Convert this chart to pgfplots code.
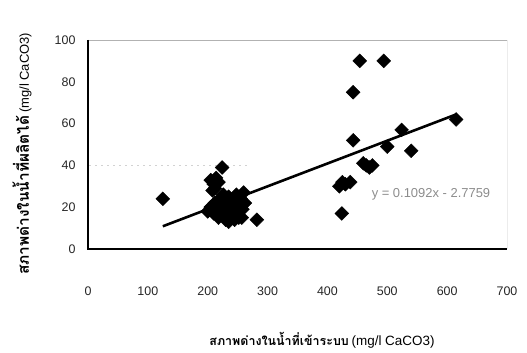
\documentclass[border=0pt]{standalone}
\usepackage{pgfplots}
\pgfplotsset{compat=1.18}
\usepackage{fontspec}
\setmainfont{Liberation Sans}
\newfontfamily\thaifont[Script=Thai]{Loma}
\begin{document}
\begin{tikzpicture}[x=1bp,y=1bp]
\begin{axis}[at={(0,0)}, anchor=south west, scale only axis,
  width=419bp, height=209bp,
  xmin=0, xmax=700, ymin=0, ymax=100,
  xtick={0,100,...,700}, ytick={0,20,...,100},
  axis line style={draw=none},
  major tick length=0pt,
  tick label style={font=\fontsize{12.5}{14}\selectfont, text=black!85, /pgf/number format/assume math mode=true},
  xticklabel style={yshift=-34bp},
  yticklabel style={xshift=-9bp},
  clip=false,
]
% frame
\draw[gray!60, line width=0.8bp] (rel axis cs:0,1) -- (rel axis cs:1,1);
\draw[gray!15, line width=0.5bp] (rel axis cs:1,0) -- (rel axis cs:1,1);
\draw[black, line width=1.2bp] (rel axis cs:0,1) -- (rel axis cs:0,0) -- (rel axis cs:1,0);
\draw[gray!35, dash pattern=on 2bp off 4bp] (axis cs:2,40) -- (axis cs:265,40);
% data
\addplot[only marks, mark=square*, mark size=4.9bp, mark options={rotate=45, fill=black, draw=black}] coordinates {
(125,24) (224,39)
(205,33) (210,31) (214,34) (212,29) (218,32) (208,28)
(200,18) (205,20) (210,17) (212,22) (215,19) (218,15) (220,24) (222,20)
(225,17) (228,22) (230,14) (232,19) (235,25) (238,21) (240,16) (243,23)
(245,18) (248,26) (250,21) (252,15) (255,24) (258,19) (260,27) (262,22)
(245,14) (235,13) (226,26) (257,15)
(282,14)
(424,17) (420,30) (425,32) (430,31) (438,32)
(460,41) (465,40) (470,39) (475,40)
(443,52) (443,75) (454,90) (494,90)
(500,49) (524,57) (540,47) (615,62)
};
\addplot[black, line width=2.6bp, no marks] coordinates {(125,10.87) (615,64.38)};
\node[text=black!45, font=\fontsize{13}{15}\selectfont, anchor=center] at (axis cs:573,26) {y = 0.1092x - 2.7759};
\end{axis}
\node[rotate=90, anchor=center] at (-66bp,95bp) {{\thaifont\bfseries\fontsize{15.5}{17}\selectfont สภาพด่างในน้ำที่ผลิตได้} {\fontsize{13}{15}\selectfont (mg/l CaCO3)}};
\node[anchor=center] at (234bp,-91bp) {{\thaifont\bfseries\fontsize{12.5}{15}\selectfont สภาพด่างในน้ำที่เข้าระบบ} {\fontsize{13.5}{15}\selectfont (mg/l CaCO3)}};
\pgfresetboundingbox
\path[use as bounding box] (-88bp,-104bp) rectangle (439bp,249bp);
\end{tikzpicture}
\end{document}
